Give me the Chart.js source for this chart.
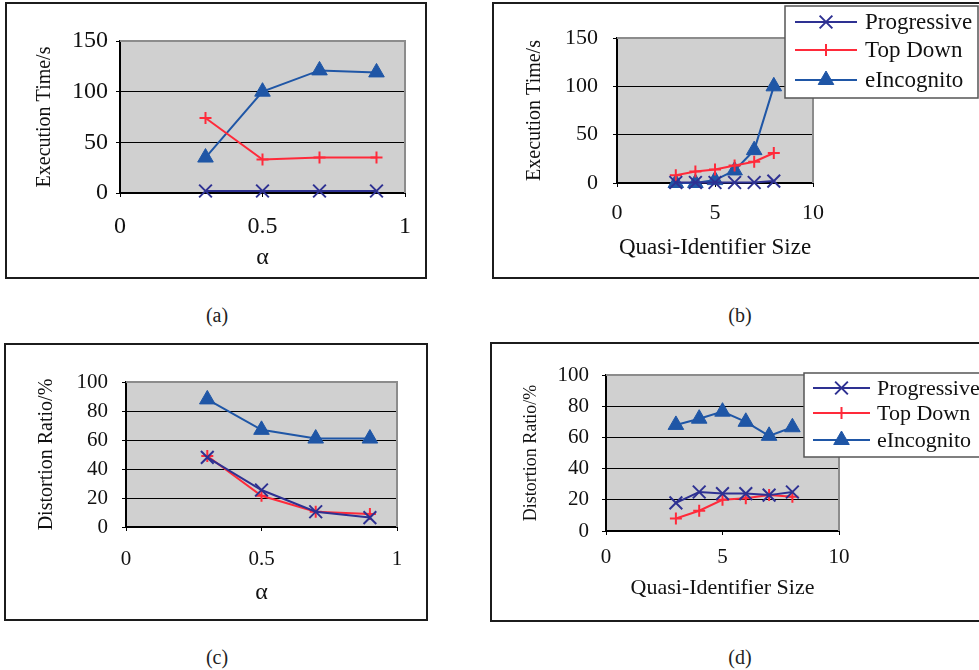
<!DOCTYPE html>
<html>
<head>
<meta charset="utf-8">
<title>Execution time and distortion ratio</title>
<script src="https://cdn.jsdelivr.net/npm/chart.js@4.4.1/dist/chart.umd.min.js"></script>
<style>
  html, body { margin: 0; padding: 0; background: #fff; }
  #page { position: relative; width: 979px; height: 670px; overflow: hidden; background: #fff; }
  .frame { position: absolute; border: 2px solid #1c1c1c; box-sizing: border-box; }
  .panel { position: absolute; }
  .caption { position: absolute; width: 60px; margin-left: -30px; text-align: center;
             font: 20px "Liberation Serif", serif; line-height: 24px; color: #222; }
</style>
</head>
<body>
<div id="page">
  <div class="frame" style="left:5px;top:2px;width:422px;height:277px"></div>
  <div class="frame" style="left:492px;top:2px;width:600px;height:277px"></div>
  <div class="frame" style="left:4px;top:343px;width:424px;height:278px"></div>
  <div class="frame" style="left:490px;top:342px;width:600px;height:280px"></div>

  <canvas id="chartA" class="panel" width="420" height="275" style="left:6px;top:3px"></canvas>
  <canvas id="chartB" class="panel" width="497" height="275" style="left:493px;top:3px"></canvas>
  <canvas id="chartC" class="panel" width="422" height="276" style="left:5px;top:344px"></canvas>
  <canvas id="chartD" class="panel" width="499" height="278" style="left:491px;top:343px"></canvas>

  <div class="caption" style="left:217px;top:303px">(a)</div>
  <div class="caption" style="left:740px;top:303px">(b)</div>
  <div class="caption" style="left:217px;top:645px">(c)</div>
  <div class="caption" style="left:740px;top:645px">(d)</div>
</div>
<script>
// ---- data ----
var seriesNames = ['Progressive', 'Top Down', 'eIncognito'];
var seriesColors = ['#2e3192', '#ff2a3a', '#1f56a6'];

var alphaValues = [0.3, 0.5, 0.7, 0.9];
var qiSizes = [3, 4, 5, 6, 7, 8];

var alphaTicks = [0, 0.5, 1];
var qiTicks = [0, 5, 10];
var timeTicks = [0, 50, 100, 150];
var distTicks = [0, 20, 40, 60, 80, 100];

// (a) execution time vs alpha
var timeAlphaProgressive = [2, 2, 2, 2];
var timeAlphaTopDown = [74, 33, 35, 35];
var timeAlphaIncognito = [35, 100, 121, 119];

// (b) execution time vs quasi-identifier size
var timeQiProgressive = [0.5, 0.5, 0.5, 0.5, 0.5, 2];
var timeQiTopDown = [8, 12, 14, 18, 22, 31];
var timeQiIncognito = [0, 0, 3, 13, 34, 100];

// (c) distortion ratio vs alpha
var distAlphaProgressive = [48, 25.5, 10.5, 6.5];
var distAlphaTopDown = [49, 21.5, 10.5, 9];
var distAlphaIncognito = [88, 67, 61, 61];

// (d) distortion ratio vs quasi-identifier size
var distQiProgressive = [18, 25, 24, 24, 23, 25];
var distQiTopDown = [8, 13, 20, 21, 23, 22];
var distQiIncognito = [68, 72, 76.5, 70, 61, 66.5];

var FONT = '"Liberation Serif", "Times New Roman", serif';

function toPoints(xs, ys) {
  return xs.map(function(x, i) { return { x: x, y: ys[i] }; });
}

function buildDatasets(xs, prog, top, inc) {
  var styles = [
    { pointStyle: 'crossRot', pointRadius: 9, pointBorderWidth: 2 },
    { pointStyle: 'cross', pointRadius: 6, pointBorderWidth: 2 },
    { pointStyle: 'triangle', pointRadius: 9, pointBorderWidth: 1 }
  ];
  return [prog, top, inc].map(function(vals, i) {
    return {
      label: seriesNames[i],
      data: toPoints(xs, vals),
      borderColor: seriesColors[i],
      backgroundColor: seriesColors[i],
      pointBackgroundColor: seriesColors[i],
      pointBorderColor: seriesColors[i],
      borderWidth: 2,
      pointStyle: styles[i].pointStyle,
      pointRadius: styles[i].pointRadius,
      pointBorderWidth: styles[i].pointBorderWidth,
      tension: 0,
      clip: false
    };
  });
}

// gray plot background, gray top/right border
var plotFrame = {
  id: 'plotFrame',
  beforeDraw: function(chart) {
    var a = chart.chartArea, ctx = chart.ctx;
    ctx.save();
    ctx.fillStyle = '#d0d0d0';
    ctx.fillRect(a.left, a.top, a.right - a.left, a.bottom - a.top);
    ctx.restore();
  },
  beforeDatasetsDraw: function(chart) {
    var a = chart.chartArea, ctx = chart.ctx;
    ctx.save();
    ctx.strokeStyle = '#8c8c8c';
    ctx.lineWidth = 2;
    ctx.beginPath();
    ctx.moveTo(a.left, a.top);
    ctx.lineTo(a.right, a.top);
    ctx.lineTo(a.right, a.bottom);
    ctx.stroke();
    ctx.restore();
  }
};

function fallbackMarker(ctx, style, r, x, y) {
  ctx.beginPath();
  if (style === 'triangle') {
    ctx.moveTo(x, y - r);
    ctx.lineTo(x + r * 0.866, y + r / 2);
    ctx.lineTo(x - r * 0.866, y + r / 2);
    ctx.closePath();
    ctx.fill();
  } else if (style === 'cross') {
    ctx.moveTo(x - r, y); ctx.lineTo(x + r, y);
    ctx.moveTo(x, y - r); ctx.lineTo(x, y + r);
  } else {
    var d = r * 0.707;
    ctx.moveTo(x - d, y - d); ctx.lineTo(x + d, y + d);
    ctx.moveTo(x - d, y + d); ctx.lineTo(x + d, y - d);
  }
  ctx.stroke();
}

// boxed legend placed at fixed spot, drawn from the datasets
var boxLegend = {
  id: 'boxLegend',
  afterDraw: function(chart) {
    var o = chart.options.plugins.boxLegend;
    if (!o || !o.show) return;
    var ctx = chart.ctx;
    ctx.save();
    ctx.fillStyle = '#fff';
    ctx.fillRect(o.x, o.y, o.w, o.h);
    ctx.strokeStyle = '#555';
    ctx.lineWidth = 1.5;
    ctx.strokeRect(o.x, o.y, o.w, o.h);
    chart.data.datasets.forEach(function(ds, i) {
      var y = o.rows[i];
      ctx.strokeStyle = ds.borderColor;
      ctx.lineWidth = ds.borderWidth;
      ctx.beginPath();
      ctx.moveTo(o.lineFrom, y);
      ctx.lineTo(o.lineTo, y);
      ctx.stroke();
      var mx = (o.lineFrom + o.lineTo) / 2;
      ctx.fillStyle = ds.pointBackgroundColor;
      ctx.strokeStyle = ds.pointBorderColor;
      ctx.lineWidth = ds.pointBorderWidth;
      if (Chart.helpers && Chart.helpers.drawPoint) {
        Chart.helpers.drawPoint(ctx, {
          pointStyle: ds.pointStyle, radius: ds.pointRadius,
          borderWidth: ds.pointBorderWidth, rotation: 0
        }, mx, y);
      } else {
        fallbackMarker(ctx, ds.pointStyle, ds.pointRadius, mx, y);
      }
      ctx.fillStyle = '#111';
      ctx.font = o.fontSize + 'px ' + FONT;
      ctx.textBaseline = 'middle';
      ctx.textAlign = 'left';
      ctx.fillText(ds.label, o.textX, y + 1);
    });
    ctx.restore();
  }
};

function plainNumber(v) {
  return String(v);
}

function makeChart(id, cfg) {
  var xt = cfg.xTicks, yt = cfg.yTicks;
  var yMax = yt[yt.length - 1];
  return new Chart(document.getElementById(id), {
    type: 'line',
    data: { datasets: cfg.datasets },
    plugins: [plotFrame, boxLegend],
    options: {
      responsive: false,
      animation: false,
      events: [],
      layout: { padding: { left: 0, top: cfg.padTop, right: cfg.padRight, bottom: 0 } },
      plugins: {
        legend: { display: false },
        tooltip: { enabled: false },
        boxLegend: cfg.legend || { show: false }
      },
      scales: {
        x: {
          type: 'linear',
          min: xt[0], max: xt[xt.length - 1],
          afterFit: function(s) { s.height = cfg.xHeight; },
          afterBuildTicks: function(s) { s.ticks = xt.map(function(v) { return { value: v }; }); },
          ticks: { padding: cfg.xTickPad, color: '#111', maxRotation: 0, autoSkip: false,
                   callback: plainNumber,
                   font: { family: FONT, size: cfg.tickSize } },
          grid: { drawOnChartArea: false, tickLength: 4, color: '#000' },
          border: { color: '#000', width: 2 },
          title: { display: true, text: cfg.xTitle, color: '#111',
                   font: { family: FONT, size: cfg.xTitleSize },
                   padding: { top: 0, bottom: cfg.xTitlePad } }
        },
        y: {
          min: yt[0], max: yMax,
          afterFit: function(s) { s.width = cfg.yWidth; },
          afterBuildTicks: function(s) { s.ticks = yt.map(function(v) { return { value: v }; }); },
          ticks: { padding: cfg.yTickPad, color: '#111', callback: plainNumber,
                   font: { family: FONT, size: cfg.tickSize } },
          grid: {
            tickLength: 4,
            tickColor: '#000',
            color: function(c) { return c.tick && c.tick.value === yMax ? 'rgba(0,0,0,0)' : '#000'; }
          },
          border: { color: '#000', width: 2 },
          title: { display: true, text: cfg.yTitle, color: '#111',
                   font: { family: FONT, size: cfg.yTitleSize },
                   padding: { top: cfg.yTitlePad, bottom: 0 } }
        }
      }
    }
  });
}

// (a)
makeChart('chartA', {
  datasets: buildDatasets(alphaValues, timeAlphaProgressive, timeAlphaTopDown, timeAlphaIncognito),
  xTicks: alphaTicks, yTicks: timeTicks,
  padTop: 38, padRight: 21, yWidth: 114, xHeight: 85,
  tickSize: 24, xTickPad: 15, yTickPad: 8,
  xTitle: '\u03b1', xTitleSize: 24, xTitlePad: 6,
  yTitle: 'Execution Time/s', yTitleSize: 20, yTitlePad: 27
});

// (b)
makeChart('chartB', {
  datasets: buildDatasets(qiSizes, timeQiProgressive, timeQiTopDown, timeQiIncognito),
  xTicks: qiTicks, yTicks: timeTicks,
  padTop: 35, padRight: 177, yWidth: 124, xHeight: 95,
  tickSize: 22, xTickPad: 13, yTickPad: 15,
  xTitle: 'Quasi-Identifier Size', xTitleSize: 23, xTitlePad: 16,
  yTitle: 'Execution Time/s', yTitleSize: 20, yTitlePad: 30,
  legend: { show: true, x: 292, y: 3, w: 193, h: 92, rows: [19, 47, 77],
            lineFrom: 302, lineTo: 364, textX: 372, fontSize: 23 }
});

// (c)
makeChart('chartC', {
  datasets: buildDatasets(alphaValues, distAlphaProgressive, distAlphaTopDown, distAlphaIncognito),
  xTicks: alphaTicks, yTicks: distTicks,
  padTop: 38, padRight: 30, yWidth: 121, xHeight: 93,
  tickSize: 21, xTickPad: 16, yTickPad: 14,
  xTitle: '\u03b1', xTitleSize: 24, xTitlePad: 13,
  yTitle: 'Distortion Ratio/%', yTitleSize: 20, yTitlePad: 30
});

// (d)
makeChart('chartD', {
  datasets: buildDatasets(qiSizes, distQiProgressive, distQiTopDown, distQiIncognito),
  xTicks: qiTicks, yTicks: distTicks,
  padTop: 32, padRight: 151, yWidth: 115, xHeight: 90,
  tickSize: 21, xTickPad: 10, yTickPad: 13,
  xTitle: 'Quasi-Identifier Size', xTitleSize: 22, xTitlePad: 20,
  yTitle: 'Distortion Ratio/%', yTitleSize: 18, yTitlePad: 29,
  legend: { show: true, x: 313, y: 30, w: 200, h: 84, rows: [45, 70, 97],
            lineFrom: 322, lineTo: 379, textX: 386, fontSize: 22 }
});
</script>
</body>
</html>
